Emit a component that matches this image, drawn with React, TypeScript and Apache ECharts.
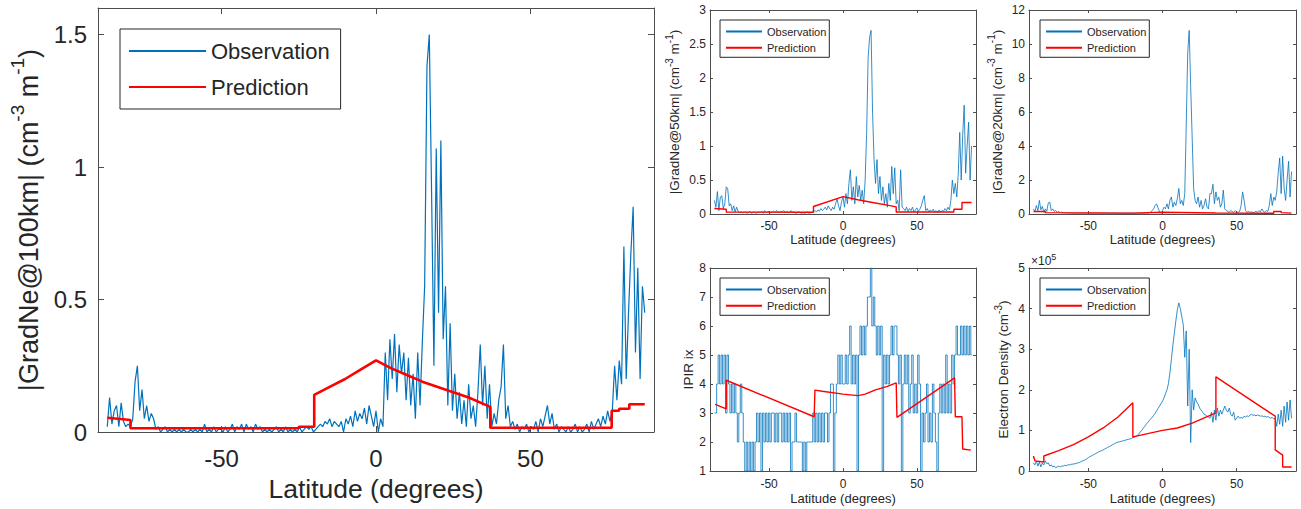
import React, { useEffect, useRef } from "react";
import * as echarts from "echarts";

const FONT = "'Liberation Sans', Arial, Helvetica, sans-serif";
const TEXT_COLOR = "#262626";
const AXIS_COLOR = "#4d4d4d";
const OBS_COLOR = "#0072BD";
const PRED_COLOR = "#FF0000";

const latTicks = [-50, 0, 50];
const obsLatStart = -87;

// ---------- |GradNe@100km| (large panel) ----------
const grad100Step = 0.75;
const grad100Obs = [
  0.02, 0.13, 0.03, 0.08, 0.1, 0.02, 0.11, 0.04, 0.02, 0.03,
  0.02, 0.05, 0.19, 0.25, 0.08, 0.16, 0.05, 0.1, 0.04, 0.07,
  0.05, 0.01, 0.02, 0.0, 0.01, 0.02, 0.0, 0.01, 0.0, 0.01,
  0.0, 0.01, 0.0, 0.01, 0.0, 0.0, 0.01, 0.0, 0.01, 0.0,
  0.01, 0.0, 0.03, 0.0, 0.01, 0.0, 0.02, 0.0, 0.01, 0.01,
  0.0, 0.02, 0.0, 0.01, 0.03, 0.0, 0.02, 0.01, 0.03, 0.0,
  0.03, 0.01, 0.02, 0.0, 0.03, 0.01, 0.02, 0.0, 0.01, 0.0,
  0.01, 0.0, 0.01, 0.02, 0.0, 0.01, 0.0, 0.02, 0.0, 0.01,
  0.0, 0.01, 0.0, 0.02, 0.0, 0.01, 0.02, 0.01, 0.02, 0.0,
  0.01, 0.02, 0.03, 0.02, 0.04, 0.03, 0.05, 0.02, 0.04, 0.03,
  0.02, 0.04, 0.0, 0.05, 0.03, 0.06, 0.02, 0.08, 0.04, 0.07,
  0.05, 0.09, 0.03, 0.1, 0.06, 0.02, 0.08, 0.0, 0.05, 0.02,
  0.3, 0.12, 0.35, 0.2, 0.37, 0.15, 0.33, 0.22, 0.3, 0.12,
  0.28, 0.1, 0.22, 0.05, 0.3, 0.1, 0.34, 0.55, 1.38, 1.5,
  0.9, 0.25, 1.07, 0.45, 1.1, 0.35, 0.55, 0.1, 0.41, 0.08,
  0.22, 0.05, 0.15, 0.03, 0.12, 0.02, 0.18, 0.05, 0.1, 0.02,
  0.15, 0.33, 0.1, 0.25, 0.05, 0.18, 0.02, 0.07, 0.03, 0.12,
  0.17, 0.33, 0.05, 0.1, 0.02, 0.04, 0.01, 0.03, 0.0, 0.02,
  0.01, 0.03, 0.0, 0.02, 0.01, 0.04, 0.0, 0.05, 0.02, 0.06,
  0.1, 0.03, 0.07, 0.01, 0.03, 0.0, 0.02, 0.01, 0.0, 0.02,
  0.0, 0.01, 0.03, 0.0, 0.02, 0.0, 0.01, 0.03, 0.0, 0.04,
  0.01, 0.03, 0.05, 0.02, 0.06, 0.03, 0.08, 0.04, 0.08, 0.25,
  0.12, 0.27, 0.18, 0.7, 0.2, 0.45, 0.67, 0.85, 0.3, 0.62,
  0.2, 0.55, 0.45,
];
const grad100PredLat = [-87, -79.5, -79.5, -25, -25, -20, -20, -15, -10, -5, 0, 5, 10, 15, 20, 25, 30, 37, 37, 76.3, 76.3, 78.7, 78.7, 82, 82, 87];
const grad100PredVal = [0.054, 0.045, 0.014, 0.014, 0.02, 0.02, 0.14, 0.17, 0.2, 0.235, 0.27, 0.24, 0.215, 0.19, 0.17, 0.15, 0.13, 0.095, 0.016, 0.016, 0.08, 0.08, 0.088, 0.088, 0.105, 0.105];
const grad100Ticks = [0, 0.5, 1, 1.5];

// ---------- |GradNe@50km| ----------
const grad50Step = 1;
const grad50Obs = [
  0.2, 0.1, 0.33, 0.05, 0.25, 0.27, 0.08, 0.15, 0.4, 0.37,
  0.12, 0.15, 0.05, 0.12, 0.03, 0.1, 0.04, 0.02, 0.03, 0.02,
  0.02, 0.03, 0.01, 0.02, 0.04, 0.01, 0.02, 0.03, 0.01, 0.02,
  0.03, 0.02, 0.04, 0.01, 0.05, 0.02, 0.03, 0.04, 0.02, 0.03,
  0.04, 0.02, 0.05, 0.03, 0.02, 0.04, 0.03, 0.05, 0.02, 0.04,
  0.02, 0.03, 0.05, 0.02, 0.03, 0.01, 0.02, 0.03, 0.02, 0.01,
  0.02, 0.01, 0.02, 0.03, 0.01, 0.02, 0.02, 0.04, 0.05, 0.03,
  0.06, 0.04, 0.08, 0.05, 0.07, 0.1, 0.06, 0.12, 0.08, 0.05,
  0.1, 0.07, 0.15, 0.22, 0.12, 0.05, 0.18, 0.25, 0.1, 0.3,
  0.15, 0.45, 0.65, 0.2, 0.4, 0.15, 0.55, 0.25, 0.42, 0.2,
  0.35, 0.15, 0.5, 1.2, 2.3, 2.6, 2.7, 1.5, 0.8, 0.45,
  0.8, 0.3, 0.55, 0.2, 0.4, 0.15, 0.3, 0.1, 0.45, 0.2,
  0.7, 0.3, 0.68, 0.15, 0.2, 0.05, 0.65, 0.1, 0.08, 0.05,
  0.1, 0.04, 0.08, 0.05, 0.1, 0.03, 0.06, 0.09, 0.04, 0.07,
  0.12, 0.2, 0.27, 0.05, 0.08, 0.03, 0.06, 0.04, 0.07, 0.03,
  0.05, 0.02, 0.06, 0.03, 0.05, 0.04, 0.08, 0.05, 0.1, 0.06,
  0.2, 0.5, 0.3, 0.45, 0.25, 0.6, 1.2, 0.5, 1.15, 1.6,
  0.6, 1.0, 1.35, 0.5, 1.0,
];
const grad50PredLat = [-87, -79, -79, -20, -20, 0, 10, 20, 30, 36, 36, 75, 75, 80.5, 80.5, 87];
const grad50PredVal = [0.08, 0.07, 0.03, 0.025, 0.11, 0.255, 0.21, 0.17, 0.13, 0.105, 0.03, 0.03, 0.07, 0.07, 0.17, 0.17];
const grad50Ticks = [0, 0.5, 1, 1.5, 2, 2.5, 3];

// ---------- |GradNe@20km| ----------
const grad20Step = 1;
const grad20Obs = [
  0.3, 0.15, 0.5, 0.2, 0.8, 0.25, 0.45, 0.1, 0.3, 0.15,
  0.65, 0.7, 0.2, 0.3, 0.15, 0.2, 0.1, 0.15, 0.08, 0.1,
  0.06, 0.08, 0.05, 0.07, 0.05, 0.06, 0.04, 0.05, 0.06, 0.04,
  0.05, 0.04, 0.06, 0.05, 0.04, 0.05, 0.06, 0.04, 0.05, 0.04,
  0.04, 0.05, 0.04, 0.06, 0.05, 0.04, 0.05, 0.04, 0.05, 0.06,
  0.05, 0.04, 0.05, 0.04, 0.06, 0.05, 0.04, 0.05, 0.04, 0.05,
  0.04, 0.05, 0.04, 0.05, 0.04, 0.05, 0.06, 0.05, 0.04, 0.05,
  0.05, 0.06, 0.05, 0.04, 0.06, 0.05, 0.07, 0.05, 0.08, 0.1,
  0.2, 0.3, 0.5, 0.6, 0.35, 0.15, 0.05, 0.2, 0.4, 0.3,
  0.6, 0.3, 0.8, 1.0, 0.4, 0.7, 0.5, 0.9, 1.5, 0.6,
  0.8, 0.5, 1.2, 5.2, 9.5, 10.8, 7.5, 4.5, 1.5, 0.8,
  0.6, 1.0, 0.4, 0.8, 0.3, 0.5, 0.9, 0.4, 0.3, 1.2,
  1.2, 1.75, 0.6, 1.3, 0.8, 1.0, 0.4, 0.6, 1.4, 0.3,
  0.2, 0.15, 0.1, 0.2, 0.15, 0.1, 0.2, 0.12, 0.1, 0.15,
  0.5, 1.3, 0.8, 0.2, 0.1, 0.15, 0.1, 0.12, 0.08, 0.1,
  0.15, 0.1, 0.2, 0.12, 0.3, 0.15, 0.1, 0.2, 0.15, 0.5,
  1.2, 0.5, 1.0, 0.8, 1.3, 2.4, 3.3, 1.2, 3.4, 1.5,
  0.8, 2.0, 3.1, 1.0, 2.5,
];
const grad20PredLat = [-87, -79, -79, -20, -20, 0, 36, 36, 75, 75, 80, 80, 87];
const grad20PredVal = [0.15, 0.15, 0.08, 0.05, 0.06, 0.1, 0.06, 0.04, 0.04, 0.15, 0.15, 0.08, 0.05];
const grad20Ticks = [0, 2, 4, 6, 8, 10, 12];

// ---------- IPIR ix ----------
const ipirStep = 1;
const ipirObs = [
  3, 3, 4, 5, 4, 5, 4, 5, 3, 5,
  4, 3, 4, 3, 4, 3, 2, 3, 4, 3,
  2, 1, 2, 1, 2, 1, 2, 1, 2, 3,
  2, 3, 1, 3, 2, 3, 2, 3, 2, 3,
  3, 2, 3, 2, 3, 3, 2, 3, 2, 3,
  2, 3, 1, 2, 2, 3, 2, 2, 2, 2,
  1, 2, 1, 2, 2, 2, 2, 3, 2, 3,
  2, 3, 2, 3, 2, 3, 3, 2, 3, 4,
  4, 1, 3, 4, 5, 4, 5, 4, 4, 5,
  4, 5, 6, 4, 5, 4, 5, 1, 5, 6,
  5, 6, 5, 6, 7, 7, 8, 6, 7, 6,
  5, 6, 5, 6, 1, 5, 4, 5, 4, 5,
  6, 5, 6, 6, 5, 4, 5, 1, 4, 5,
  4, 5, 3, 4, 5, 3, 4, 3, 5, 4,
  1, 3, 2, 3, 4, 2, 3, 2, 4, 3,
  2, 1, 3, 4, 3, 4, 3, 5, 3, 4,
  3, 5, 4, 5, 6, 5, 5, 6, 5, 6,
  5, 6, 5, 6, 5,
];
const ipirPredLat = [-86.5, -79, -79, -19.5, -19, -14, 0, 10, 15, 22, 30, 36, 36.5, 75.5, 76, 80.5, 81, 86.5];
const ipirPredVal = [3.3, 3.14, 4.13, 2.87, 3.79, 3.75, 3.65, 3.6, 3.65, 3.8, 3.92, 4.04, 2.85, 4.21, 2.87, 2.87, 1.76, 1.72];
const ipirTicks = [1, 2, 3, 4, 5, 6, 7, 8];

// ---------- Electron density (x 10^5 cm^-3) ----------
const edStep = 1;
const edObsE5 = [
  0.2, 0.15, 0.25, 0.12, 0.22, 0.1, 0.2, 0.15, 0.25, 0.18,
  0.2, 0.12, 0.15, 0.1, 0.12, 0.08, 0.1, 0.12, 0.1, 0.12,
  0.12, 0.14, 0.13, 0.15, 0.15, 0.16, 0.17, 0.17, 0.18, 0.19,
  0.2, 0.21, 0.23, 0.25, 0.26, 0.28, 0.3, 0.33, 0.35, 0.37,
  0.39, 0.41, 0.43, 0.45, 0.47, 0.49, 0.5, 0.52, 0.54, 0.56,
  0.58, 0.6, 0.62, 0.64, 0.66, 0.68, 0.7, 0.71, 0.72, 0.73,
  0.74, 0.75, 0.76, 0.77, 0.78, 0.79, 0.8, 0.82, 0.83, 0.85,
  0.88, 0.91, 0.96, 1.0, 1.05, 1.1, 1.15, 1.19, 1.24, 1.28,
  1.32, 1.37, 1.42, 1.48, 1.54, 1.6, 1.66, 1.72, 1.8, 1.9,
  2.0, 2.15, 2.42, 2.75, 3.1, 3.4, 3.7, 3.97, 4.14, 4.0,
  3.8, 3.6, 2.8, 3.45, 1.6, 3.0, 0.7, 2.0, 1.5, 1.8,
  1.7, 1.65, 1.55, 1.5, 1.45, 1.4, 1.38, 1.35, 1.33, 1.3,
  1.45, 1.2, 1.5, 1.25, 1.55, 1.35, 1.5, 1.4, 1.5, 1.6,
  1.5, 1.45, 1.55, 1.4, 1.35, 1.45, 1.25, 1.3, 1.35, 1.3,
  1.32, 1.3, 1.35, 1.33, 1.36, 1.34, 1.38, 1.4, 1.37, 1.38,
  1.36, 1.38, 1.37, 1.35, 1.36, 1.34, 1.35, 1.33, 1.34, 1.32,
  1.3, 1.32, 1.28, 1.3, 1.1, 1.4, 1.15, 1.5, 1.1, 1.6,
  1.2, 1.7, 1.25, 1.75, 1.3,
];
const edPredLat = [-87, -86, -80, -80, -70, -60, -50, -40, -30, -20, -20, 0, 10, 20, 36, 36, 76, 76, 81, 81, 87];
const edPredValE5 = [0.37, 0.25, 0.22, 0.37, 0.5, 0.65, 0.84, 1.06, 1.33, 1.68, 0.84, 1.0, 1.06, 1.18, 1.43, 2.32, 1.35, 0.52, 0.39, 0.1, 0.1];
const edTicks = [0, 1, 2, 3, 4, 5];

type Panel = {
  left: number; top: number; width: number; height: number;
  yMin: number; yMax: number; yTicks: number[];
  yName: string; yNameGap: number;
  obs: number[]; obsStep: number; predLat: number[]; predVal: number[];
  big: boolean; legendLeft: number; legendTop: number; stepLine: boolean;
  xNameGap: number; xLabelMargin: number;
};

const panels: Panel[] = [
  {
    left: 98, top: 8, width: 556, height: 424, yMin: 0, yMax: 1.6, yTicks: grad100Ticks,
    yName: "|GradNe@100km| (cm{sup|-3} m{sup|-1})", yNameGap: 44,
    obs: grad100Obs, obsStep: grad100Step, predLat: grad100PredLat, predVal: grad100PredVal,
    big: true, legendLeft: 120, legendTop: 29, stepLine: false, xNameGap: 43, xLabelMargin: 14,
  },
  {
    left: 710, top: 10, width: 266, height: 204, yMin: 0, yMax: 3, yTicks: grad50Ticks,
    yName: "|GradNe@50km| (cm{sup|-3} m{sup|-1})", yNameGap: 17,
    obs: grad50Obs, obsStep: grad50Step, predLat: grad50PredLat, predVal: grad50PredVal,
    big: false, legendLeft: 720, legendTop: 20, stepLine: false, xNameGap: 18, xLabelMargin: 6,
  },
  {
    left: 1029, top: 10, width: 267, height: 204, yMin: 0, yMax: 12, yTicks: grad20Ticks,
    yName: "|GradNe@20km| (cm{sup|-3} m{sup|-1})", yNameGap: 16,
    obs: grad20Obs, obsStep: grad20Step, predLat: grad20PredLat, predVal: grad20PredVal,
    big: false, legendLeft: 1040, legendTop: 20, stepLine: false, xNameGap: 18, xLabelMargin: 6,
  },
  {
    left: 710, top: 268, width: 266, height: 203, yMin: 1, yMax: 8, yTicks: ipirTicks,
    yName: "IPIR ix", yNameGap: 15,
    obs: ipirObs, obsStep: ipirStep, predLat: ipirPredLat, predVal: ipirPredVal,
    big: false, legendLeft: 720, legendTop: 278, stepLine: true, xNameGap: 21, xLabelMargin: 7,
  },
  {
    left: 1029, top: 268, width: 267, height: 203, yMin: 0, yMax: 5, yTicks: edTicks,
    yName: "Electron Density (cm{sup|-3})", yNameGap: 10,
    obs: edObsE5, obsStep: edStep, predLat: edPredLat, predVal: edPredValE5,
    big: false, legendLeft: 1040, legendTop: 278, stepLine: false, xNameGap: 21, xLabelMargin: 7,
  },
];

const BIG = {
  tickFont: 24, xNameFont: 26.5, yNameFont: 27, supFont: 19, nameLineHeight: 42, legendFont: 22, tickLen: 6,
  yLabelMargin: 11, obsWidth: 1.2, predWidth: 2.6,
  legendIconW: 77, legendIconH: 14, legendGap: 14, legendPad: [11, 11, 11, 8],
};
const SMALL = {
  tickFont: 12, xNameFont: 13, yNameFont: 13.5, supFont: 10, nameLineHeight: 21, legendFont: 11, tickLen: 3,
  yLabelMargin: 4, obsWidth: 0.8, predWidth: 1.4,
  legendIconW: 36, legendIconH: 8, legendGap: 5.3, legendPad: [6, 3, 4, 5],
};

function buildOption() {
  const grid: any[] = [];
  const xAxis: any[] = [];
  const yAxis: any[] = [];
  const series: any[] = [];
  const legend: any[] = [];

  panels.forEach((p, k) => {
    const s = p.big ? BIG : SMALL;
    grid.push({ left: p.left, top: p.top, width: p.width, height: p.height, containLabel: false, show: false });
    const axisLine = { show: true, onZero: false, lineStyle: { color: AXIS_COLOR, width: 1 } };
    const tick = (vals: number[]) => ({
      show: true, inside: true, length: s.tickLen, customValues: vals,
      lineStyle: { color: AXIS_COLOR, width: 1 },
    });
    const label = (vals: number[], margin: number) => ({
      show: true, customValues: vals, margin, fontSize: s.tickFont, color: TEXT_COLOR, fontFamily: FONT,
    });
    xAxis.push({
      type: "value", gridIndex: k, position: "bottom", min: -90, max: 90,
      axisLine, axisTick: tick(latTicks), axisLabel: label(latTicks, p.xLabelMargin),
      splitLine: { show: false }, minorTick: { show: false },
      name: "Latitude (degrees)", nameLocation: "middle", nameGap: p.xNameGap,
      nameTextStyle: { fontSize: s.xNameFont, color: TEXT_COLOR, fontFamily: FONT },
    });
    xAxis.push({
      type: "value", gridIndex: k, position: "top", min: -90, max: 90,
      axisLine, axisTick: tick(latTicks), axisLabel: { show: false }, splitLine: { show: false },
    });
    const hasSup = p.yName.indexOf("{sup|") >= 0;
    yAxis.push({
      type: "value", gridIndex: k, position: "left", min: p.yMin, max: p.yMax,
      axisLine, axisTick: tick(p.yTicks), axisLabel: label(p.yTicks, s.yLabelMargin),
      splitLine: { show: false },
      name: p.yName, nameLocation: "middle", nameRotate: 90, nameGap: p.yNameGap,
      nameTextStyle: {
        fontSize: s.yNameFont, color: TEXT_COLOR, fontFamily: FONT,
        lineHeight: hasSup ? s.nameLineHeight : s.yNameFont,
        rich: {
          sup: { fontSize: s.supFont, verticalAlign: "top", color: TEXT_COLOR, fontFamily: FONT },
        },
      },
    });
    yAxis.push({
      type: "value", gridIndex: k, position: "right", min: p.yMin, max: p.yMax,
      axisLine, axisTick: tick(p.yTicks), axisLabel: { show: false }, splitLine: { show: false },
    });

    const obsLat = p.obs.map((_, i) => +(obsLatStart + i * p.obsStep).toFixed(3));
    series.push({
      type: "line", name: "Observation_" + k, xAxisIndex: 2 * k, yAxisIndex: 2 * k,
      data: obsLat.map((x, i) => [x, p.obs[i]]),
      showSymbol: false, symbol: "none", step: p.stepLine ? "middle" : false,
      lineStyle: { color: OBS_COLOR, width: s.obsWidth }, itemStyle: { color: OBS_COLOR },
      z: 2, silent: true,
    });
    series.push({
      type: "line", name: "Prediction_" + k, xAxisIndex: 2 * k, yAxisIndex: 2 * k,
      data: p.predLat.map((x, i) => [x, p.predVal[i]]),
      showSymbol: false, symbol: "none",
      lineStyle: { color: PRED_COLOR, width: s.predWidth }, itemStyle: { color: PRED_COLOR },
      z: 3, silent: true,
    });

    legend.push({
      show: true, left: p.legendLeft, top: p.legendTop, orient: "vertical",
      data: ["Observation_" + k, "Prediction_" + k],
      formatter: (n: string) => n.split("_")[0],
      itemWidth: s.legendIconW, itemHeight: s.legendIconH, itemGap: s.legendGap,
      itemStyle: { color: "rgba(0,0,0,0)", borderColor: "rgba(0,0,0,0)", borderWidth: 0, opacity: 0 },
      padding: s.legendPad, borderColor: TEXT_COLOR, borderWidth: 1, borderRadius: 0,
      backgroundColor: "#ffffff", selectedMode: false, z: 10,
      textStyle: { fontSize: s.legendFont, color: TEXT_COLOR, fontFamily: FONT },
    });
  });

  return {
    animation: false,
    backgroundColor: "#ffffff",
    textStyle: { fontFamily: FONT },
    grid, xAxis, yAxis, series, legend,
    graphic: [
      {
        type: "text", left: 1031, top: 252, z: 10,
        style: {
          text: "×10{s|5}",
          fontSize: 12, lineHeight: 17, fill: TEXT_COLOR, fontFamily: FONT,
          rich: { s: { fontSize: 9, verticalAlign: "top", fill: TEXT_COLOR, fontFamily: FONT } },
        },
      },
    ],
  };
}

export default function App() {
  const ref = useRef<HTMLDivElement>(null);
  useEffect(() => {
    if (!ref.current) return;
    const chart = echarts.init(ref.current, undefined, { renderer: "svg" });
    chart.setOption(buildOption() as any);
    return () => chart.dispose();
  }, []);
  return (
    <div
      ref={ref}
      style={{ position: "fixed", left: 0, top: 0, width: 1301, height: 509, background: "#fff" }}
    />
  );
}
